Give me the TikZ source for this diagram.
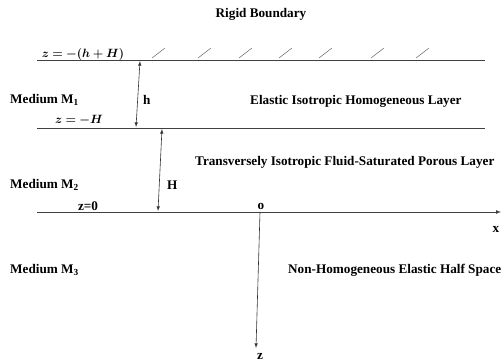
\documentclass[tikz,border=0pt]{standalone}
\usepackage{amsmath,amssymb,bm}
\usepackage{fontspec}
\setmainfont{Liberation Serif}
\usepackage{tikz}
\usetikzlibrary{%
  calc,%
  arrows%
}

\begin{document}
\begin{tikzpicture}[x=1pt,y=-1pt,
  lbl/.style={font=\bfseries\fontsize{13.2}{15}\selectfont,inner sep=0pt},
  eqn/.style={font=\fontsize{12.8}{15}\selectfont,inner sep=0pt},
  bnd/.style={draw=black!75,line width=0.7pt},
  >=latex]
\useasboundingbox (0,0) rectangle (504,364);

% interfaces
\coordinate (tl) at (37,60);  \coordinate (tr) at (485,60);
\coordinate (ml) at (37,128); \coordinate (mr) at (485,128);
\coordinate (bl) at (37,212); \coordinate (br) at (501,212);
\draw[bnd] (tl) -- (tr);
\draw[bnd] (ml) -- (mr);
\draw[bnd,->] (bl) -- (br);

% rigid boundary hatching
\foreach \x in {152,198,239,279,319,371,416}
  \draw[black!60,line width=0.5pt] (\x,58) -- ++(13,-10);

\node[lbl] (rigid) at (261,14) {Rigid Boundary};

% thicknesses
\coordinate (ha) at (140,61);  \coordinate (hb) at (136,127);
\coordinate (Ha) at (162,129); \coordinate (Hb) at (158,211);
\draw[black!80,line width=0.6pt,<->] (ha) -- (hb);
\draw[black!80,line width=0.6pt,<->] (Ha) -- (Hb);
\node[lbl,anchor=west] (hlab) at (143,100) {h};
\node[lbl,anchor=west] (Hlab) at (167,185) {H};

% levels
\node[eqn] (ztop) at (83,54) {$\bm{z=-(h+H)}$};
\node[eqn] (zmid) at (79,120) {$\bm{z=-H}$};
\node[lbl] (zzero) at (88,206) {z=0};

% media
\node[lbl,anchor=west] (med1) at (10,100) {Medium M\textsubscript{1}};
\node[lbl,anchor=west] (med2) at (10,185) {Medium M\textsubscript{2}};
\node[lbl,anchor=west] (med3) at (10,270) {Medium M\textsubscript{3}};
\node[lbl,anchor=west] (lay1) at (250,101) {Elastic Isotropic Homogeneous Layer};
\node[lbl,anchor=west] (lay2) at (195,162) {Transversely Isotropic Fluid-Saturated Porous Layer};
\node[lbl,anchor=west] (lay3) at (288,270) {Non-Homogeneous Elastic Half Space};

% axes
\node[lbl] (orig) at (261,206) {o};
\node[lbl] (xlab) at (496,229) {x};
\node[lbl] (zlab) at (260,356) {z};
\coordinate (o) at (260,212);
\draw[black!80,line width=0.6pt,->] (o) -- (256,348);
\end{tikzpicture}
\end{document}
